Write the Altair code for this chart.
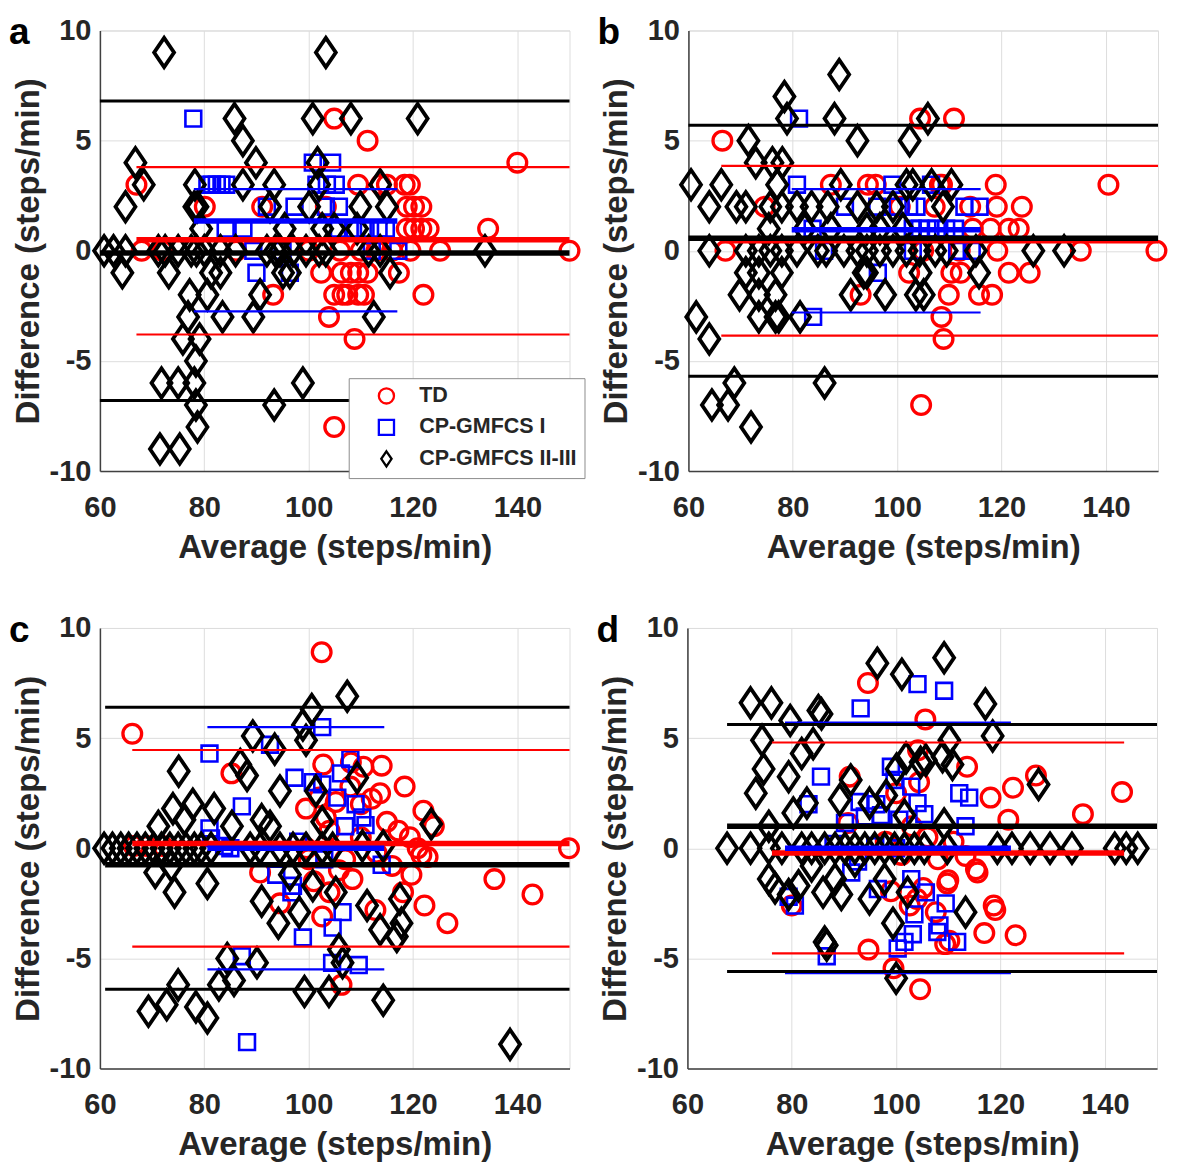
import altair as alt
import pandas as pd

GROUPS = ["TD", "CP-GMFCS I", "CP-GMFCS II-III"]
COLORS = ["#ff0000", "#0000ff", "#000000"]
DIAMOND = "M0,-1L0.68,0L0,1L-0.68,0Z"
SHAPES = ["circle", "square", DIAMOND]
SIZES = [350, 250, 860]
STROKE_W = [3.3, 2.6, 3.8]
LIMIT_W = [2.2, 2.2, 3.0]
MEAN_W = 5.5
X_TICKS = [60, 80, 100, 120, 140]
Y_TICKS = [-10, -5, 0, 5, 10]
X_TITLE = "Average (steps/min)"
Y_TITLE = "Difference (steps/min)"
LETTERS = ["a", "b", "c", "d"]

# ---------------- panel a ----------------
a_td = [(67.0, 3), (68.0, 0), (72.0, 0), (80.1, 2), (86.1, 0), (91.1, 2), (93.2, -2), (102.4, -1),
        (103.3, 2), (103.9, -3), (104.9, 6), (104.9, -2), (104.9, -8), (106.3, -1), (106.5, -2),
        (107.4, -2), (108.1, -1), (108.8, -4), (109.5, -1), (109.5, -2), (109.5, 3), (110.6, -2),
        (111.3, -1), (111.3, 5), (113.8, 3), (115.0, 3), (117.3, -1), (118.4, 3), (118.8, 1),
        (118.8, 2), (119.5, 0), (120.2, 1), (120.2, 2), (121.6, 1), (121.6, 2), (122.0, -2),
        (123.0, 1), (125.2, 0), (134.4, 1), (140.0, 4), (150.0, 0), (106.0, 0), (110.0, 0),
        (113.0, 0), (116.0, 0), (100.0, 0), (119.4, 3)]
a_cp1 = [(77.9, 6), (80.6, 3), (81.5, 3), (82.4, 3), (83.3, 3), (84.2, 3), (101.5, 3), (103.5, 3),
         (105.2, 3), (100.8, 4), (104.5, 4), (92.0, 2), (97.3, 2), (103.3, 2), (105.8, 2), (84.1, 1),
         (87.5, 1), (105.8, 1), (108.5, 1), (110.9, 1), (113.4, 1), (114.8, 1), (89.4, 0), (95.0, 0),
         (112.1, 0), (117.2, 0), (90.0, -1), (96.4, -1)]
a_cp23 = [(72.3, 9), (103.3, 9), (85.8, 6), (100.8, 6), (108.1, 6), (120.9, 6), (87.4, 5), (89.9, 4),
          (66.8, 4), (101.7, 4), (68.4, 3), (78.2, 3), (87.4, 3), (93.4, 3), (102.0, 3), (113.7, 3),
          (64.9, 2), (78.1, 2), (78.7, 2), (92.6, 2), (100.1, 2), (109.9, 2), (115.0, 2), (79.4, 1),
          (95.4, 1), (102.6, 1), (104.9, 1), (109.3, 1), (60.8, 0), (62.6, 0), (64.9, 0), (71.2, 0),
          (72.5, 0), (75.0, 0), (77.5, 0), (78.5, 0), (80.0, 0), (83.1, 0), (86.0, 0), (92.0, 0),
          (93.6, 0), (94.5, 0), (97.0, 0), (99.5, 0), (102.0, 0), (103.3, 0), (111.5, 0), (113.7, 0),
          (133.8, 0), (64.3, -1), (73.2, -1), (81.3, -1), (83.1, -1), (95.1, -1), (96.4, -1),
          (115.6, -1), (77.2, -2), (80.6, -2), (90.7, -2), (76.9, -3), (83.5, -3), (89.4, -3),
          (112.5, -3), (75.9, -4), (79.1, -4), (78.4, -5), (71.8, -6), (75.0, -6), (78.1, -6),
          (98.9, -6), (78.4, -7), (93.4, -7), (78.7, -8), (71.5, -9), (75.3, -9)]
# (mean, upper limit, lower limit, x start, x end)
a_td_lines = (0.5, 3.8, -3.8, 67.0, 150.0)
a_cp1_lines = (1.35, 2.8, -2.75, 78.0, 117.0)
a_cp23_lines = (-0.1, 6.8, -6.8, 60.0, 150.0)

# ---------------- panel b ----------------
b_td = [(66.5, 5), (67.1, 0), (74.6, 2), (87.3, 3), (94.4, 3), (95.9, 3), (108.6, 3), (104.4, 6),
        (110.9, 6), (118.9, 3), (140.5, 3), (119.1, 2), (123.9, 2), (107.2, 2), (114.5, 1), (117.9, 1),
        (121.4, 1), (123.3, 1), (119.2, 0), (135.2, 0), (149.7, 0), (121.4, -1), (125.4, -1),
        (110.4, -1), (112.2, -1), (102.3, -1), (115.7, -2), (118.2, -2), (109.9, -2), (93.0, -2),
        (108.5, -3), (108.9, -4), (104.6, -7), (105.0, 0), (112.0, 0), (114.0, 2), (108.2, 3),
        (100.5, 2)]
b_cp1 = [(81.2, 6), (80.8, 3), (99.1, 3), (106.5, 3), (96.2, 2), (100.1, 2), (102.3, 2), (103.7, 2),
         (112.9, 2), (115.8, 2), (90.0, 2), (83.8, 1), (103.0, 1), (104.4, 1), (105.8, 1), (107.6, 1),
         (109.4, 1), (111.1, 1), (86.0, 0), (103.0, 0), (111.5, 0), (114.3, 0), (96.3, -1), (83.9, -3)]
b_cp23 = [(88.9, 8), (78.4, 7), (78.9, 6), (88.0, 6), (105.9, 6), (71.5, 5), (92.4, 5), (102.4, 5),
          (72.9, 4), (76.1, 4), (78.0, 4), (60.5, 3), (66.3, 3), (77.0, 3), (89.2, 3), (101.8, 3),
          (103.0, 3), (106.6, 3), (110.4, 3), (64.0, 2), (69.2, 2), (71.0, 2), (75.7, 2), (77.9, 2),
          (80.8, 2), (83.6, 2), (86.7, 2), (92.4, 2), (96.1, 2), (99.2, 2), (108.8, 2), (75.4, 1),
          (82.3, 1), (87.3, 1), (94.2, 1), (96.7, 1), (101.1, 1), (64.0, 0), (71.0, 0), (73.5, 0),
          (75.7, 0), (77.9, 0), (80.8, 0), (84.8, 0), (86.4, 0), (89.8, 0), (92.4, 0), (94.2, 0),
          (96.7, 0), (99.2, 0), (101.8, 0), (104.3, 0), (107.3, 0), (109.5, 0), (115.1, 0),
          (126.1, 0), (132.0, 0), (71.0, -1), (73.5, -1), (77.9, -1), (93.6, -1), (94.2, -1),
          (104.5, -1), (115.7, -1), (69.8, -2), (73.5, -2), (76.7, -2), (91.1, -2), (97.7, -2),
          (103.6, -2), (105.1, -2), (61.5, -3), (73.5, -3), (76.7, -3), (77.3, -3), (81.4, -3),
          (64.0, -4), (68.8, -6), (86.1, -6), (64.5, -7), (67.6, -7), (72.0, -8)]
b_td_lines = (0.45, 3.85, -3.85, 66.3, 150.0)
b_cp1_lines = (0.95, 2.8, -2.8, 79.8, 116.0)
b_cp23_lines = (0.57, 5.7, -5.7, 60.0, 150.0)

# ---------------- panel c ----------------
c_td = [(66.2, 5.2), (85.2, 3.4), (102.5, 8.9), (102.8, 3.8), (108.1, 3.9), (110.5, 3.7), (114.0, 3.75),
        (118.4, 2.8), (113.7, 2.5), (112.1, 2.25), (108.0, 2.8), (110.0, 2.0), (122.0, 1.7),
        (117.2, 0.8), (119.4, 0.5), (121.6, -0.3), (122.8, -0.4), (149.9, 0.0), (135.6, -1.4),
        (142.9, -2.1), (119.7, -1.2), (122.2, -2.6), (126.6, -3.4), (118.1, -2.0), (112.8, -2.8),
        (106.3, -6.2), (108.4, -1.4), (105.8, -1.0), (99.5, 1.8), (102.0, 2.3), (103.3, 1.4),
        (105.2, 2.1), (90.7, -1.1), (94.5, -2.5), (102.6, -3.1), (99.6, 0.0), (66.5, 0.1), (69.0, 0.1),
        (72.0, 0.1), (124.0, 1.0), (120.9, 0.0), (101.0, -1.5), (104.0, -2.0), (107.0, -0.5),
        (110.0, 0.5), (113.0, -0.2), (115.0, 1.2), (116.0, -0.8), (104.0, 0.8), (100.0, -0.5)]
c_cp1 = [(81.0, 4.3), (87.2, 1.9), (81.0, 0.9), (81.3, 0.45), (83.8, 0.1), (85.0, 0.0), (92.6, 4.7),
         (97.3, 3.2), (100.8, 3.0), (102.6, 2.9), (93.8, -1.2), (97.0, -1.7), (96.7, -2.0),
         (98.9, -4.05), (87.2, -4.9), (88.2, -8.8), (102.6, 5.5), (108.0, 4.05), (106.2, 3.4),
         (109.0, 2.0), (110.3, 1.4), (110.9, 1.05), (105.5, 2.3), (106.5, -2.9), (109.6, -5.3),
         (104.5, -5.2), (114.0, -0.75), (104.6, -3.6), (98.0, 0.3), (103.0, -0.5), (107.0, 1.0)]
c_cp23 = [(100.6, 6.3), (98.9, 5.6), (99.5, 4.9), (89.3, 5.1), (93.5, 4.5), (86.9, 3.8), (88.2, 3.3),
          (75.1, 3.5), (94.5, 2.6), (101.4, 2.6), (74.0, 1.8), (77.8, 2.0), (81.9, 1.8), (71.2, 1.0),
          (76.2, 1.3), (85.3, 1.0), (91.0, 1.3), (92.6, 1.0), (102.6, 1.2), (60.8, 0.0), (62.4, 0.0),
          (64.0, 0.0), (65.5, 0.0), (67.1, 0.0), (68.7, 0.0), (70.3, 0.0), (71.8, 0.0), (73.4, 0.0),
          (75.0, 0.0), (76.5, 0.0), (78.1, 0.0), (79.4, 0.0), (81.3, 0.0), (88.8, 0.0), (90.7, 0.0),
          (94.5, 0.0), (97.0, 0.0), (99.5, 0.0), (102.6, 0.0), (104.6, 0.0), (110.3, 0.1),
          (114.3, 0.1), (70.6, -1.1), (74.3, -2.0), (80.6, -1.6), (73.7, -0.8), (91.0, -2.4),
          (96.4, -1.2), (98.2, -2.9), (94.2, -3.4), (100.8, -1.7), (84.4, -5.0), (90.1, -5.2),
          (85.7, -6.0), (82.8, -6.2), (75.0, -6.2), (72.8, -7.1), (69.3, -7.4), (78.4, -7.2),
          (80.6, -7.7), (99.2, -6.5), (103.9, -6.5), (107.4, 6.9), (109.3, 3.2), (123.5, 1.1),
          (105.2, -2.0), (111.2, -2.6), (117.5, -2.3), (113.7, -3.7), (116.9, -4.0), (117.8, -3.4),
          (105.8, -4.6), (106.5, -5.2), (114.3, -6.9), (138.6, -8.9)]
c_td_lines = (0.22, 4.46, -4.46, 66.2, 150.0)
c_cp1_lines = (0.0, 5.5, -5.5, 80.6, 114.5)
c_cp23_lines = (-0.75, 6.4, -6.4, 61.0, 150.0)

# ---------------- panel d ----------------
d_td = [(94.6, 7.5), (105.6, 5.85), (104.2, 4.45), (104.4, 3.0), (113.6, 3.7), (126.8, 3.3),
        (122.4, 2.75), (118.1, 2.3), (143.3, 2.55), (135.8, 1.55), (121.5, 1.3), (91.1, 3.25),
        (90.8, 1.15), (115.3, -0.95), (115.6, -1.1), (113.3, -0.35), (110.0, -1.45), (109.8, -1.6),
        (118.7, -2.6), (119.0, -2.8), (116.9, -3.85), (122.9, -3.95), (109.4, -4.35), (110.2, -4.2),
        (94.7, -4.6), (99.5, -5.45), (104.6, -6.4), (80.0, -2.6), (107.6, -2.9), (105.2, -1.8),
        (99.0, -1.95), (102.6, -2.6), (104.0, -2.3), (98.0, 0.3), (101.0, -0.3), (106.0, 0.5),
        (108.0, -0.5), (111.0, 0.3), (103.0, 1.0), (100.0, 2.5)]
d_cp1 = [(93.2, 6.35), (85.6, 3.25), (99.0, 3.7), (102.9, 2.8), (99.7, 3.1), (83.2, 2.0), (93.0, 2.1),
         (96.2, 2.0), (90.2, 1.15), (94.0, 1.45), (97.1, 1.5), (100.6, 1.3), (104.1, 2.05),
         (91.4, -1.1), (102.9, -1.4), (92.7, -0.6), (80.6, -2.6), (79.4, -2.2), (86.7, -4.9),
         (100.3, -4.55), (101.6, -4.25), (96.5, -1.85), (104.1, 7.45), (109.2, 7.15), (103.5, -3.0),
         (103.2, -3.9), (112.1, 2.5), (114.0, 2.3), (113.3, 1.0), (105.4, 1.55), (105.7, -2.0),
         (109.5, -2.5), (108.3, -3.5), (107.9, -3.8), (111.7, -4.25), (88.0, 0.2), (96.0, 0.1),
         (100.0, 0.0)]
d_cp23 = [(96.4, 8.4), (101.1, 7.9), (109.2, 8.65), (72.1, 6.6), (76.1, 6.6), (79.7, 5.8), (85.1, 6.25),
          (85.7, 6.1), (117.1, 6.55), (74.3, 4.9), (84.1, 4.75), (81.9, 4.3), (118.5, 5.1), (110.2, 4.9),
          (74.6, 3.6), (79.4, 3.25), (105.7, 4.0), (108.9, 4.15), (110.8, 3.8), (101.9, 4.1),
          (104.7, 3.9), (100.1, 3.6), (73.1, 2.5), (82.9, 2.05), (91.3, 3.1), (89.2, 2.2), (94.9, 2.05),
          (98.1, 2.4), (127.3, 2.9), (75.6, 1.0), (80.3, 1.6), (101.6, 1.5), (109.2, 1.1), (67.6, 0.0),
          (72.1, 0.0), (75.6, 0.0), (78.1, 0.0), (81.9, 0.0), (83.8, 0.0), (86.3, 0.0), (88.3, 0.0),
          (90.2, 0.0), (92.1, 0.0), (94.0, 0.0), (95.9, 0.0), (97.8, 0.0), (99.7, 0.0), (101.6, 0.0),
          (103.5, 0.0), (105.4, 0.0), (109.8, 0.0), (119.4, 0.0), (122.2, 0.0), (125.7, 0.0),
          (129.5, 0.0), (133.7, 0.0), (141.9, 0.0), (144.1, 0.0), (146.3, 0.0), (75.6, -1.4),
          (76.8, -1.8), (79.4, -2.1), (81.3, -1.7), (86.0, -2.0), (89.5, -2.1), (94.9, -2.3),
          (97.8, -1.4), (102.2, -2.0), (83.8, -0.8), (88.3, -1.4), (92.1, -0.6), (99.4, -3.4),
          (86.3, -4.25), (86.7, -4.4), (100.0, -5.9), (113.3, -2.9)]
d_td_lines = (-0.22, 4.8, -4.77, 76.2, 143.7)
d_cp1_lines = (0.0, 5.7, -5.67, 78.7, 122.0)
d_cp23_lines = (1.0, 5.62, -5.59, 67.6, 150.0)


def points_frame(td, cp1, cp23):
    rows = []
    for g, pts in zip(GROUPS, (td, cp1, cp23)):
        rows += [{"group": g, "x": x, "y": y} for x, y in pts]
    return pd.DataFrame(rows)


def lines_frame(td, cp1, cp23):
    rows = []
    for g, (m, up, lo, x1, x2) in zip(GROUPS, (td, cp1, cp23)):
        rows.append({"group": g, "kind": "mean", "y": m, "x1": x1, "x2": x2})
        rows.append({"group": g, "kind": "limit", "y": up, "x1": x1, "x2": x2})
        rows.append({"group": g, "kind": "limit", "y": lo, "x1": x1, "x2": x2})
    return pd.DataFrame(rows)


FONT = "Liberation Sans"
TXT = "#262626"
W, H = 470, 441

X_AXIS = alt.Axis(values=X_TICKS, title=X_TITLE, format="d", labelFlush=False, ticks=False,
                  labelFont=FONT, labelFontSize=29, labelFontWeight="bold", labelColor=TXT,
                  labelPadding=22, titleFont=FONT, titleFontSize=33, titleFontWeight="bold",
                  titleColor=TXT, titlePadding=9, domainColor="#404040", domainWidth=1.5,
                  grid=True, gridColor="#dddddd", gridWidth=1)
Y_AXIS = alt.Axis(values=Y_TICKS, title=Y_TITLE, labelExpr="'' + datum.value", labelFlush=False,
                  ticks=False, labelFont=FONT, labelFontSize=29, labelFontWeight="bold",
                  labelColor=TXT, labelPadding=9, titleFont=FONT, titleFontSize=33,
                  titleFontWeight="bold", titleColor=TXT, titlePadding=4, domainColor="#404040",
                  domainWidth=1.5, grid=True, gridColor="#dddddd", gridWidth=1)

LEGEND = alt.Legend(orient="none", legendX=249, legendY=348, title=None, fillColor="white",
                    strokeColor="#8c8c8c", padding=7, labelFont=FONT, labelFontWeight="bold",
                    labelFontSize=21.5, labelColor=TXT, symbolSize=230, symbolStrokeWidth=2.3,
                    symbolOffset=20, labelOffset=22, rowPadding=6.5)


def panel(letter, pts, lines, legend):
    xsc = alt.Scale(domain=[60, 150], nice=False, zero=False)
    ysc = alt.Scale(domain=[-10, 10], nice=False, zero=False)
    layers = []
    # one marker layer per group, drawn TD -> CP I -> CP II-III
    for g, sz, sw in zip(GROUPS, SIZES, STROKE_W):
        layers.append(
            alt.Chart(pts).transform_filter(alt.datum.group == g).mark_point(
                filled=False, opacity=1, size=sz, strokeWidth=sw
            ).encode(
                x=alt.X("x:Q", scale=xsc, axis=X_AXIS),
                y=alt.Y("y:Q", scale=ysc, axis=Y_AXIS),
                shape=alt.Shape("group:N", scale=alt.Scale(domain=GROUPS, range=SHAPES),
                                legend=legend),
                stroke=alt.Stroke("group:N", scale=alt.Scale(domain=GROUPS, range=COLORS),
                                  legend=legend),
            )
        )
    base = alt.Chart(lines).encode(
        x=alt.X("x1:Q", scale=xsc, axis=X_AXIS),
        x2="x2:Q",
        y=alt.Y("y:Q", scale=ysc, axis=Y_AXIS),
    )
    # limits of agreement (thin) then mean bias (thick)
    for g, c, lw in zip(GROUPS, COLORS, LIMIT_W):
        layers.append(base.transform_filter(
            (alt.datum.kind == "limit") & (alt.datum.group == g)
        ).mark_rule(color=c, strokeWidth=lw))
    for g, c in zip(GROUPS, COLORS):
        layers.append(base.transform_filter(
            (alt.datum.kind == "mean") & (alt.datum.group == g)
        ).mark_rule(color=c, strokeWidth=MEAN_W))
    tag = alt.Chart(pd.DataFrame({"letter": [letter]})).mark_text(
        align="left", baseline="alphabetic", fontSize=37, fontWeight="bold", font=FONT,
        color="black"
    ).encode(text="letter:N", x=alt.value(-91), y=alt.value(14))
    layers.append(tag)
    return alt.layer(*layers).properties(width=W, height=H)


pa = panel(LETTERS[0], points_frame(a_td, a_cp1, a_cp23),
           lines_frame(a_td_lines, a_cp1_lines, a_cp23_lines), LEGEND)
pb = panel(LETTERS[1], points_frame(b_td, b_cp1, b_cp23),
           lines_frame(b_td_lines, b_cp1_lines, b_cp23_lines), None)
pc = panel(LETTERS[2], points_frame(c_td, c_cp1, c_cp23),
           lines_frame(c_td_lines, c_cp1_lines, c_cp23_lines), None)
pd_ = panel(LETTERS[3], points_frame(d_td, d_cp1, d_cp23),
            lines_frame(d_td_lines, d_cp1_lines, d_cp23_lines), None)

IND = dict(stroke="independent", shape="independent")

row1 = alt.hconcat(pa, pb, spacing=10).resolve_scale(**IND).resolve_legend(**IND)
row2 = alt.hconcat(pc, pd_, spacing=10).resolve_scale(**IND).resolve_legend(**IND)

chart = alt.vconcat(row1, row2, spacing=46).resolve_scale(**IND).resolve_legend(
    **IND
).properties(
    padding={"left": 0, "top": 5, "right": 0, "bottom": 0}
).configure_view(strokeWidth=0).configure(background="white")

chart.save("out.html", embed_options={"renderer": "svg", "actions": False})
